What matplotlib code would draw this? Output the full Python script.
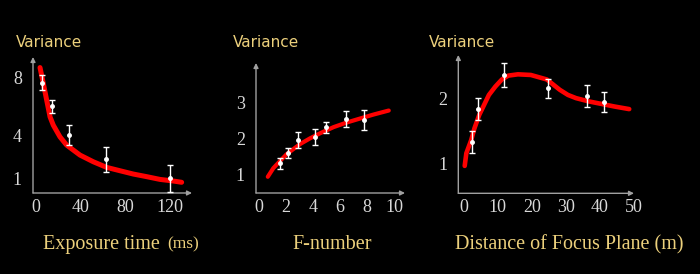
import matplotlib
matplotlib.use("Agg")
import matplotlib.pyplot as plt

# ---------------- data ----------------
# Panel 1: exposure time (ms) vs variance
exp_curve_x = [3.6, 6.6, 9.6, 12.6, 15.5, 21.5, 27.5, 39.5, 51.4, 63.4, 75.3, 87.3, 99.3, 111.2, 123.1, 130.7]
exp_curve_y = [8.67, 7.56, 6.41, 5.26, 4.69, 3.88, 3.31, 2.62, 2.16, 1.77, 1.54, 1.31, 1.13, 0.94, 0.83, 0.74]
exp_pts_x = [5.5, 14.0, 30.0, 62.5, 120.0]
exp_pts_y = [7.62, 6.0, 4.02, 2.33, 1.01]
exp_pts_err = [0.52, 0.45, 0.71, 0.86, 0.92]
exp_xticks = [0, 40, 80, 120]
exp_yticks = [1, 4, 8]

# Panel 2: F-number vs variance
fn_curve_x = [0.67, 1.08, 1.58, 2.07, 2.56, 3.06, 3.80, 4.54, 5.53, 6.52, 7.50, 8.49, 9.60]
fn_curve_y = [0.95, 1.19, 1.39, 1.58, 1.72, 1.86, 2.02, 2.16, 2.33, 2.46, 2.57, 2.68, 2.79]
fn_pts_x = [1.58, 2.19, 2.93, 4.17, 4.96, 6.47, 7.75]
fn_pts_y = [1.32, 1.60, 1.97, 2.05, 2.32, 2.55, 2.53]
fn_pts_err = [0.16, 0.14, 0.22, 0.23, 0.16, 0.22, 0.27]
fn_xticks = [0, 2, 4, 6, 8, 10]
fn_yticks = [1, 2, 3]

# Panel 3: distance of focus plane (m) vs variance
fd_curve_x = [0.28, 0.76, 2.19, 3.13, 4.55, 7.39, 9.28, 11.2, 13.1, 15.9, 19.7, 24.4, 26.3, 28.2, 30.6, 33.0, 36.7, 40.5, 44.3, 48.6]
fd_curve_y = [0.958, 1.155, 1.36, 1.54, 1.75, 2.06, 2.19, 2.30, 2.36, 2.38, 2.37, 2.30, 2.22, 2.14, 2.06, 2.01, 1.96, 1.92, 1.88, 1.84]
fd_pts_x = [2.36, 4.26, 11.85, 24.7, 36.1, 41.2]
fd_pts_y = [1.335, 1.84, 2.37, 2.16, 2.05, 1.95]
fd_pts_err = [0.17, 0.17, 0.18, 0.155, 0.17, 0.15]
fd_xticks = [0, 10, 20, 30, 40, 50]
fd_yticks = [1, 2]

ylabel_text = "Variance"
xlabels = ["Exposure time", "F-number", "Distance of Focus Plane (m)"]
exp_unit = "(ms)"

# ---------------- style ----------------
BG = "black"
GOLD = "#ecd07c"
AXC = "#a0a0a0"
TICKC = "#d8d8d8"
RED = "#ff0000"
W, H = 700, 274

fig = plt.figure(figsize=(W / 100, H / 100), dpi=100, facecolor=BG)


def px_axes(x0, y0, x1, y1):
    # x0,y0 = axis origin pixel (left, bottom); x1 = arrow end x; y1 = arrow top y
    return fig.add_axes([x0 / W, 1 - y0 / H, (x1 - x0) / W, (y0 - y1) / H])


def setup(ax, xlim, ylim, xticks, yticks):
    ax.set_facecolor(BG)
    ax.set_xlim(*xlim)
    ax.set_ylim(*ylim)
    for s in ax.spines.values():
        s.set_visible(False)
    ax.annotate("", xy=(1, 0), xytext=(0, 0), xycoords="axes fraction",
                arrowprops=dict(arrowstyle="-|>", color=AXC, lw=1.0, mutation_scale=7,
                                shrinkA=0, shrinkB=0))
    ax.annotate("", xy=(0, 1), xytext=(0, 0), xycoords="axes fraction",
                arrowprops=dict(arrowstyle="-|>", color=AXC, lw=1.0, mutation_scale=7,
                                shrinkA=0, shrinkB=0))
    ax.set_xticks(xticks)
    ax.set_yticks(yticks)
    ax.set_xticklabels([str(t) for t in xticks])
    ax.set_yticklabels([str(t) for t in yticks])
    ax.tick_params(length=0, colors=TICKC, labelsize=13)
    ax.tick_params(axis="x", pad=4)
    ax.tick_params(axis="y", pad=8)
    for lab in ax.get_xticklabels() + ax.get_yticklabels():
        lab.set_fontfamily("Liberation Serif")
        lab.set_color(TICKC)


def draw(ax, cx, cy, px, py, pe, lw):
    ax.plot(cx, cy, color=RED, lw=lw, solid_capstyle="round",
            solid_joinstyle="round", clip_on=False, zorder=2)
    ax.errorbar(px, py, yerr=pe, fmt="o", color="white", ms=2.5, elinewidth=1.0,
                capsize=2.5, capthick=1.0, clip_on=False, zorder=3)


ax1 = px_axes(33, 193, 192, 57)
setup(ax1, (-2.7, 140.0), (0.0, 9.4), exp_xticks, exp_yticks)
draw(ax1, exp_curve_x, exp_curve_y, exp_pts_x, exp_pts_y, exp_pts_err, 3.6)

ax2 = px_axes(256, 193, 405, 63)
setup(ax2, (-0.2, 10.8), (0.5, 4.11), fn_xticks, fn_yticks)
draw(ax2, fn_curve_x, fn_curve_y, fn_pts_x, fn_pts_y, fn_pts_err, 3.0)

ax3 = px_axes(458.3, 193.3, 634, 55)
setup(ax3, (-1.6, 48.3), (0.533, 2.68), fd_xticks, fd_yticks)
draw(ax3, fd_curve_x, fd_curve_y, fd_pts_x, fd_pts_y, fd_pts_err, 3.3)

# "Variance" labels
for xpx in (16, 233, 429):
    fig.text(xpx / W, 1 - 42.7 / H, ylabel_text, color=GOLD, fontsize=11,
             family="DejaVu Sans", ha="left", va="center")

# bottom labels
fig.text(43 / W, 1 - 244.5 / H, xlabels[0], color=GOLD, fontsize=14.5,
         family="Liberation Serif", ha="left", va="center")
fig.text(167 / W, 1 - 244 / H, exp_unit, color=GOLD, fontsize=12.5,
         family="Liberation Serif", ha="left", va="center")
fig.text(332.5 / W, 1 - 244.5 / H, xlabels[1], color=GOLD, fontsize=14.5,
         family="Liberation Serif", ha="center", va="center")
fig.text(569 / W, 1 - 244.5 / H, xlabels[2], color=GOLD, fontsize=14.5,
         family="Liberation Serif", ha="center", va="center")

fig.savefig("out.png", dpi=100, facecolor=BG)
